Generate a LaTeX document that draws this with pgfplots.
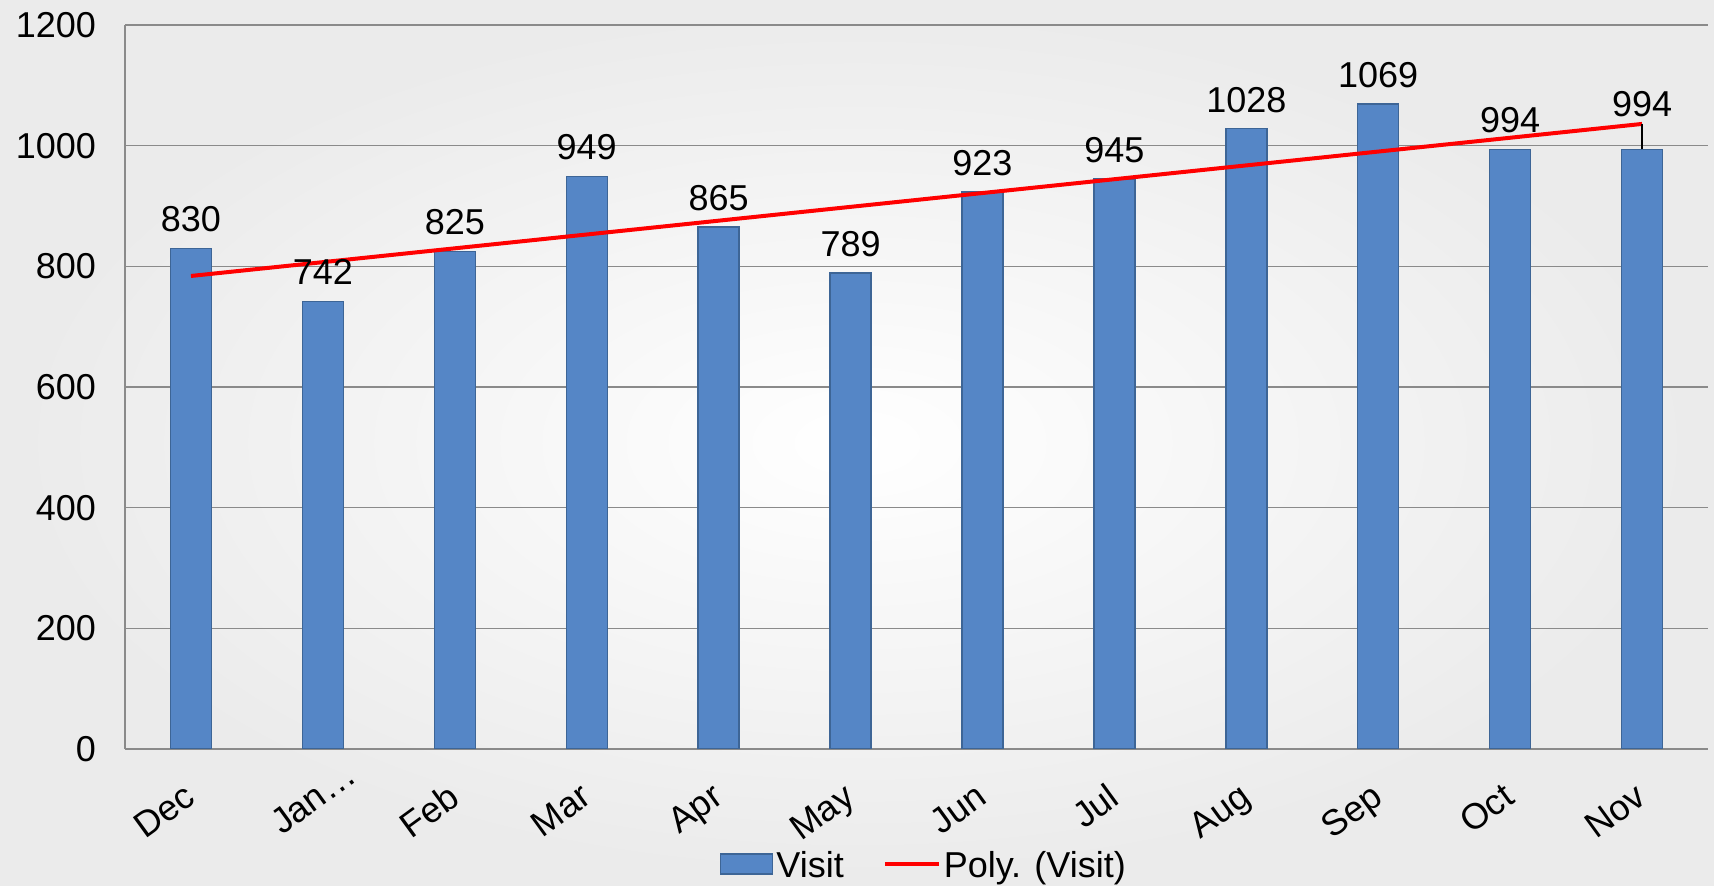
\documentclass[border=0pt]{standalone}
\usepackage{fontspec}
\setmainfont{Liberation Sans}
\usepackage{pgfplots}
\pgfplotsset{compat=1.18}

\definecolor{barblue}{HTML}{5586C6}
\definecolor{baredge}{HTML}{3D6596}
\definecolor{gridgray}{HTML}{8A8A8A}

\pgfplotsset{
  visitbar/.style={ybar, bar width=20.5pt, draw=baredge, line width=0.7pt,
    fill=barblue, nodes near coords},
}

\begin{document}
\begin{tikzpicture}
\path[use as bounding box] (0,0) rectangle (857pt,443pt);
\shade[inner color=white, outer color=black!8] (0,0) rectangle (857pt,443pt);
\begin{axis}[
    at={(62.5pt,68.5pt)}, anchor=south west,
    scale only axis,
    width=791.5pt, height=362pt,
    xmin=-0.5, xmax=11.5,
    ymin=0, ymax=1200,
    xtick={0,...,11},
    xticklabels={Dec,Jan\rlap{…},Feb,Mar,Apr,May,Jun,Jul,Aug,Sep,Oct,Nov},
    ytick={0,200,...,1200},
    axis x line*=bottom, axis y line*=left,
    axis line style={-, draw=gridgray, line width=0.75pt},
    ymajorgrids, grid style={gridgray, line width=0.75pt},
    major tick length=0pt,
    tick style={draw=none},
    /pgf/number format/assume math mode=true,
    /pgf/number format/1000 sep={},
    font=\fontsize{18}{21}\selectfont,
    yticklabel style={xshift=-11pt},
    xticklabel style={xshift=-3.4pt, yshift=-11.4pt, rotate=36, anchor=north east},
    nodes near coords style={font=\fontsize{18}{21}\selectfont},
    legend style={at={(0.505,-0.137)}, anchor=north, draw=none, fill=none,
        legend columns=2, inner sep=0pt,
        nodes={inner sep=1.5pt},
        /tikz/every even column/.append style={column sep=18pt}},
]
\addplot[visitbar, nodes near coords style={yshift=4.5pt},
    legend image code/.code={\fill[barblue, draw=baredge] (0pt,-4pt) rectangle (26pt,6pt);}]
    coordinates {(0,830) (1,742) (2,825) (3,949) (4,865) (5,789)
                 (6,923) (7,945) (8,1028) (9,1069) (10,994)};
\addlegendentry{Visit}
\addplot[red, line width=2pt,
    legend image code/.code={\draw[red, line width=2pt] (0pt,1pt) -- (27pt,1pt);}]
    coordinates {(0,784) (11,1036)};
\addlegendentry{Poly. (Visit)}
% Nov: label lifted above the trend line, with a leader line
\addplot[visitbar, forget plot, nodes near coords style={yshift=12.5pt}]
    coordinates {(11,994)};
\addplot[black, line width=0.6pt, forget plot] coordinates {(11,994) (11,1036)};
\end{axis}
\end{tikzpicture}
\end{document}
